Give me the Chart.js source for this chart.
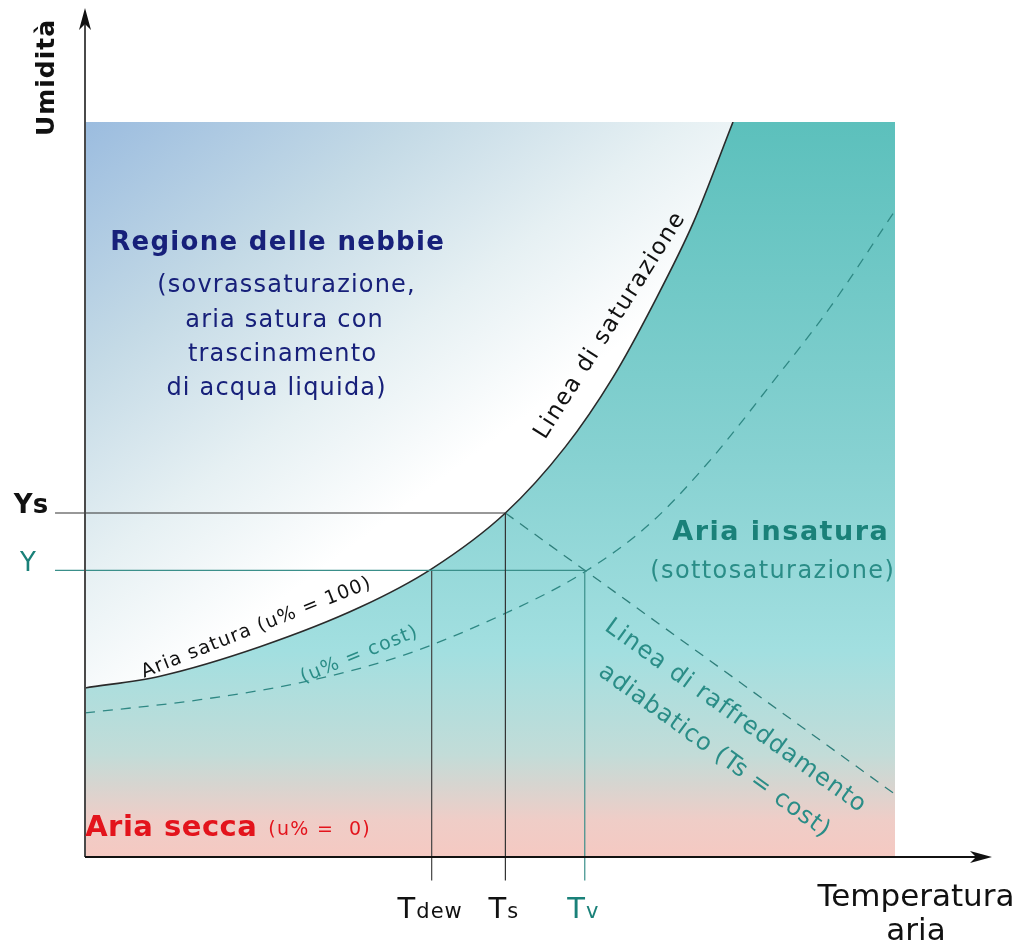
<!DOCTYPE html>
<html>
<head>
<meta charset="utf-8">
<script src="https://cdn.jsdelivr.net/npm/chart.js@4"></script>
<style>
  body { margin: 0; background: #fff; }
  #wrap { width: 1017px; height: 948px; position: relative; }
</style>
</head>
<body>
<div id="wrap"><canvas id="psicro"></canvas></div>
<script>
// curva di saturazione (u% = 100)
const satT = [0, 9.26, 21.6, 34.0, 42.8, 51.9, 59.3, 65.2, 70.1, 75.1, 80.0];
const satY = [23.0, 24.6, 28.6, 34.0, 39.2, 46.8, 55.8, 65.3, 75.1, 86.3, 100];
// curva a umidità relativa costante
const costT = [0, 14.2, 26.5, 38.9, 51.2, 61.7, 69.8, 77.2, 84.6, 92.0, 99.8];
const costY = [19.6, 21.4, 23.7, 27.3, 32.8, 38.8, 45.4, 54.0, 64.2, 74.8, 87.6];
// linea di raffreddamento adiabatico
const adiaT = [51.9, 99.8];
const adiaY = [46.8, 8.7];
// punti notevoli
const T_DEW = 42.8, T_S = 51.9, T_V = 61.7;
const Y_S = 46.8, Y_V = 39.0;
const T_LEFT = -3.7, T_BOTTOM = -3.2;

const pts = (xs, ys) => xs.map((x, i) => ({ x: x, y: ys[i] }));

function fogGradient(ctx) {
    const a = ctx.chart.chartArea;
    if (!a) return null;
    const g = ctx.chart.ctx.createLinearGradient(a.left, a.top, a.left + 300, a.top + 400);
    g.addColorStop(0, "#9bbcdf");
    g.addColorStop(0.4, "#c4dae6");
    g.addColorStop(0.72, "#e6f0f3");
    g.addColorStop(1, "#ffffff");
    return g;
}

function tealGradient(ctx) {
    const a = ctx.chart.chartArea;
    if (!a) return null;
    const g = ctx.chart.ctx.createLinearGradient(0, a.top, 0, a.bottom);
    g.addColorStop(0, "#5cc0bc");
    g.addColorStop(0.45, "#86d1d1");
    g.addColorStop(0.72, "#a2dfe0");
    g.addColorStop(0.86, "#c2dcd8");
    g.addColorStop(0.95, "#efcdc7");
    g.addColorStop(1, "#f5c9c2");
    return g;
}

// assi con frecce + testi
const diagramPlugin = {
    id: "diagram",
    afterDraw(chart) {
        const c = chart.ctx;
        const a = chart.chartArea;
        const xs = chart.scales.x;
        c.save();
        // asse y
        c.strokeStyle = "#4a4a4a";
        c.lineWidth = 2;
        c.beginPath();
        c.moveTo(a.left, a.bottom);
        c.lineTo(a.left, 18);
        c.stroke();
        c.fillStyle = "#111";
        c.beginPath();
        c.moveTo(a.left, 8);
        c.lineTo(a.left - 6, 30);
        c.lineTo(a.left, 24);
        c.lineTo(a.left + 6, 30);
        c.closePath();
        c.fill();
        // asse x
        c.strokeStyle = "#111";
        c.beginPath();
        c.moveTo(a.left, a.bottom);
        c.lineTo(980, a.bottom);
        c.stroke();
        c.beginPath();
        c.moveTo(992, a.bottom);
        c.lineTo(970, a.bottom - 6);
        c.lineTo(976, a.bottom);
        c.lineTo(970, a.bottom + 6);
        c.closePath();
        c.fill();

        const txt = (s, x, y, font, color, rot, ls) => {
            c.save();
            c.translate(x, y);
            if (rot) c.rotate(rot * Math.PI / 180);
            c.font = font;
            c.letterSpacing = (ls || 0) + "px";
            c.fillStyle = color;
            c.textAlign = "center";
            c.textBaseline = "middle";
            c.fillText(s, (ls || 0) / 2, 0);
            c.restore();
        };
        const F = "'DejaVu Sans'";
        const navy = "#17207a", teal = "#1a8179", tealTxt = "#2a8d87";

        txt("Umidità", 47, 78, "bold 25px " + F, "#111", -90, 1);
        txt("Temperatura", 916, 898, "31px " + F, "#111");
        txt("aria", 916, 932, "31px " + F, "#111");

        txt("Regione delle nebbie", 277, 243, "bold 26px " + F, navy, 0, 1.3);
        txt("(sovrassaturazione,", 286, 286, "24px " + F, navy, 0, 1.2);
        txt("aria satura con", 284, 321, "24px " + F, navy, 0, 1.2);
        txt("trascinamento", 282, 355, "24px " + F, navy, 0, 1.2);
        txt("di acqua liquida)", 276, 389, "24px " + F, navy, 0, 1.2);

        txt("Linea di saturazione", 610, 326, "23px " + F, "#111", -57.7, 1.6);
        txt("Aria satura (u% = 100)", 256, 628, "19px " + F, "#111", -21.6, 1.2);
        txt("(u% = cost)", 359, 655, "19px " + F, tealTxt, -22, 1.2);

        txt("Aria insatura", 780, 533, "bold 27px " + F, teal, 0, 1.5);
        txt("(sottosaturazione)", 772, 572, "24px " + F, tealTxt, 0, 1.4);
        txt("Linea di raffreddamento", 735, 716, "24px " + F, tealTxt, 35.6, 1.1);
        txt("adiabatico (Ts = cost)", 714, 751, "24px " + F, tealTxt, 35.8, 0.9);

        txt("Aria secca", 171, 828, "bold 29px " + F, "#e3141c", 0, 0.5);
        txt("(u% =  0)", 319, 830, "19px " + F, "#e3141c", 0, 1.3);

        txt("Ys", 31, 506, "bold 26px " + F, "#111");
        txt("Y", 28, 564, "26px " + F, teal);

        // pedici temperature
        const sub = (main, s, xv, color) => {
            const px = xs.getPixelForValue(xv);
            c.letterSpacing = "0px";
            c.font = "29px " + F;
            const w1 = c.measureText(main).width;
            c.font = "21px " + F;
            c.letterSpacing = "1px";
            const w2 = c.measureText(s).width;
            const x0 = px - (w1 + w2) / 2 - 2;
            c.fillStyle = color;
            c.textAlign = "left";
            c.textBaseline = "alphabetic";
            c.letterSpacing = "0px";
            c.font = "29px " + F;
            c.fillText(main, x0, 918);
            c.font = "21px " + F;
            c.letterSpacing = "1px";
            c.fillText(s, x0 + w1 + 1, 918);
        };
        sub("T", "dew", T_DEW, "#111");
        sub("T", "s", T_S, "#111");
        sub("T", "v", T_V, teal);
        c.restore();
    }
};

new Chart(document.getElementById("psicro"), {
    type: "scatter",
    data: {
        datasets: [
            {
                // sfondo regione insatura
                data: [{ x: 0, y: 100 }, { x: 100, y: 100 }],
                showLine: true,
                borderWidth: 0,
                pointRadius: 0,
                fill: "start",
                backgroundColor: tealGradient,
                order: 10,
            },
            {
                // linea di saturazione + regione delle nebbie
                data: pts(satT, satY),
                showLine: true,
                cubicInterpolationMode: "monotone",
                borderColor: "#2a2a2a",
                borderWidth: 1.6,
                pointRadius: 0,
                fill: "end",
                backgroundColor: fogGradient,
                order: 9,
            },
            {
                data: pts(costT, costY),
                showLine: true,
                cubicInterpolationMode: "monotone",
                borderColor: "#2f8884",
                borderWidth: 1.3,
                borderDash: [10, 8],
                pointRadius: 0,
                fill: false,
                order: 5,
            },
            {
                data: pts(adiaT, adiaY),
                showLine: true,
                borderColor: "#2f7f7b",
                borderWidth: 1.3,
                borderDash: [10, 8],
                pointRadius: 0,
                fill: false,
                order: 5,
            },
            {
                // Ys - Ts
                data: [{ x: T_LEFT, y: Y_S }, { x: T_S, y: Y_S }, { x: T_S, y: T_BOTTOM }],
                showLine: true,
                borderColor: "#333",
                borderWidth: 1.2,
                pointRadius: 0,
                fill: false,
                clip: false,
                order: 4,
            },
            {
                // Y - Tv
                data: [{ x: T_LEFT, y: Y_V }, { x: T_V, y: Y_V }, { x: T_V, y: T_BOTTOM }],
                showLine: true,
                borderColor: "#3a8f8a",
                borderWidth: 1.2,
                pointRadius: 0,
                fill: false,
                clip: false,
                order: 4,
            },
            {
                // Tdew
                data: [{ x: T_DEW, y: Y_V }, { x: T_DEW, y: T_BOTTOM }],
                showLine: true,
                borderColor: "#444",
                borderWidth: 1.2,
                pointRadius: 0,
                fill: false,
                clip: false,
                order: 4,
            },
        ],
    },
    options: {
        responsive: true,
        maintainAspectRatio: false,
        animation: false,
        layout: { padding: { left: 85, right: 122, top: 122, bottom: 91 } },
        scales: {
            x: { type: "linear", min: 0, max: 100, display: false },
            y: { type: "linear", min: 0, max: 100, display: false },
        },
        plugins: {
            legend: { display: false },
            tooltip: { enabled: false },
        },
    },
    plugins: [diagramPlugin],
});
</script>
</body>
</html>
